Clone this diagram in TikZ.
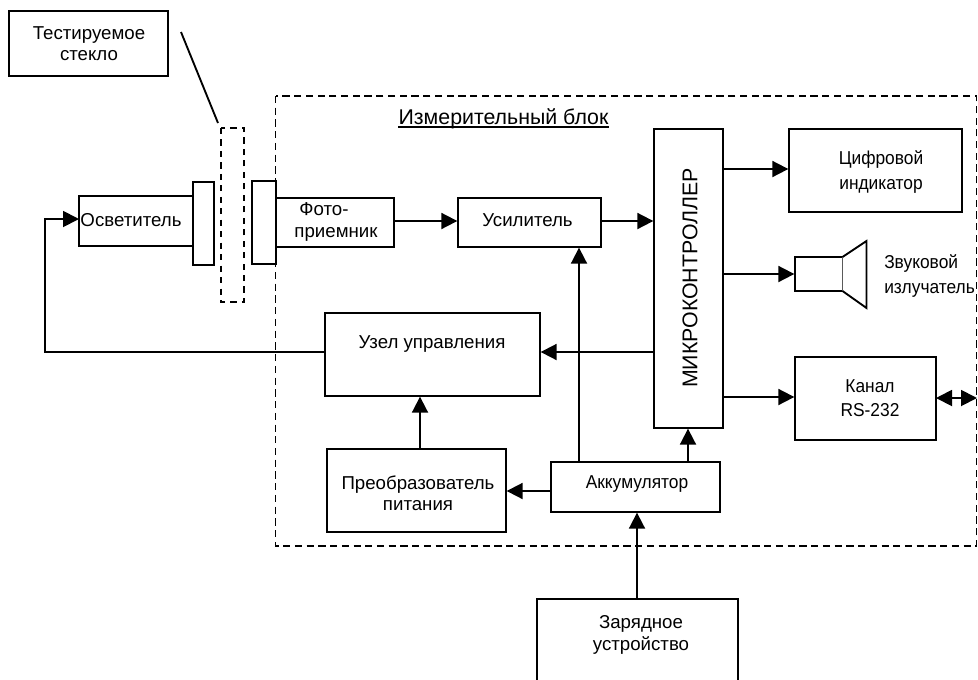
\documentclass[tikz,border=0pt]{standalone}
\usepackage{fontspec}
\setmainfont{Liberation Sans}
\usetikzlibrary{arrows.meta,calc}
\newcommand{\bx}[5]{%
  \pgfmathsetmacro{\bxcx}{(#2+#4)/2}\pgfmathsetmacro{\bxcy}{(#3+#5)/2}%
  \pgfmathsetmacro{\bxw}{(#4-#2)*0.75}\pgfmathsetmacro{\bxh}{(#5-#3)*0.75}%
  \node[boxn,minimum width=\bxw pt,minimum height=\bxh pt] (#1) at (\bxcx,\bxcy) {};}
\tikzset{
  boxn/.style={draw=black,fill=white,line width=1.4pt,inner sep=0pt,outer sep=0pt},
  lbl/.style={font=\fontsize{14}{15.9}\selectfont,align=center,inner sep=0pt},
  lblr/.style={font=\fontsize{14}{18.2}\selectfont,align=center,inner sep=0pt,xscale=0.93},
  lne/.style={draw=black,line width=1.4pt},
  arr/.style={lne,-{Triangle[length=12pt,width=12pt]},shorten >=0.5pt},
  darr/.style={lne,{Triangle[length=12pt,width=12pt]}-{Triangle[length=12pt,width=12pt]}},
  dsh/.style={draw=black,line width=1.4pt,dash pattern=on 5.4pt off 3.4pt}
}
\begin{document}
\begin{tikzpicture}[x=0.75pt,y=-0.75pt]
\useasboundingbox (0,0) rectangle (978,679);
\clip (0,0) rectangle (978,679);
% outer dashed block
\draw[dsh] (275.5,96) rectangle (976.5,546);
\node[inner sep=0pt,font=\fontsize{16}{18}\selectfont,anchor=base] (title) at (503.5,124.5) {Измерительный блок};
\draw[lne,line width=1.5pt] (title.base west) ++(0,2.5) -- ($(title.base east)+(0,2.5)$);
\bx{glassref}{9}{11}{168}{76}
\node[lbl] (glassreft) at (89,43.5) {Тестируемое\\стекло};
\draw[dsh,dash pattern=on 4.6pt off 4pt] (221,128) rectangle (244,302);
\coordinate (leadA) at (181,32);
\coordinate (leadB) at (218,123);
\draw[lne] (leadA) -- (leadB);
% light source
\bx{ill}{79}{196}{193}{246}
\bx{illf}{193}{182}{214}{265}
\node[lbl] (illt) at (131,220) {Осветитель};
% photo receiver
\bx{phof}{252}{181}{276}{264}
\bx{pho}{276}{198}{394}{247}
\node[lbl] (phot) at (336,222) {Фото-\hspace*{18pt}\\приемник};
% amplifier
\bx{amp}{458}{198}{601}{247}
\node[lbl] (ampt) at (527.5,220) {Усилитель};
% mcu
\bx{mcu}{654}{129}{723}{428}
\node[lbl,rotate=90,font=\fontsize{16}{18}\selectfont] (mcut) at (690,278) {МИКРОКОНТРОЛЛЕР};
% display
\bx{dig}{789}{129}{962}{212}
\node[lblr] (digt) at (881,172) {Цифровой\\индикатор};
% speaker
\bx{spk}{795}{257}{842.5}{291}
\draw[lne,fill=white,line join=miter] (spk.north east) -- (866.5,241) -- (866.5,308) -- (spk.south east);
\node[lblr,anchor=west,align=left] (spkt) at (884,276) {Звуковой\\излучатель};
% rs232
\bx{rs}{795}{357}{936}{440}
\node[lblr] (rst) at (870,398) {Канал\\RS-232};
\coordinate (rsend) at (977,398);
% control
\bx{ctl}{325}{313}{540}{396}
\node[lbl] (ctlt) at (432,344) {Узел управления};
% converter
\bx{conv}{327}{449}{506}{532}
\node[lbl] (convt) at (418,493.5) {Преобразователь\\питания};
% battery
\bx{bat}{551}{462}{720}{512}
\node[lblr] (batt) at (637,484) {Аккумулятор};
% charger
\bx{chg}{537}{599}{738}{720}
\node[lbl] (chgt) at (641,635) {Зарядное\\устройство};
% connectors
\draw[arr] (pho.east |- 0,221) -- (amp.west |- 0,221);
\draw[arr] (amp.east |- 0,221) -- (mcu.west |- 0,221);
\draw[arr] (mcu.east |- 0,169) -- (dig.west |- 0,169);
\draw[arr] (mcu.east |- spk.west) -- (spk.west);
\draw[arr] (mcu.east |- 0,397) -- (rs.west |- 0,397);
\draw[darr] (rs.east |- 0,398) -- (rsend);
\draw[arr] (mcu.west |- 0,352) -- (ctl.east |- 0,352);
\draw[arr] (bat.north -| 579,0) -- (amp.south -| 579,0);
\draw[arr] (bat.north -| 688,0) -- (mcu.south -| 688,0);
\draw[arr] (bat.west |- 0,491) -- (conv.east |- 0,491);
\draw[arr] (conv.north -| 420,0) -- (ctl.south -| 420,0);
\draw[arr] (chg.north -| 637,0) -- (bat.south -| 637,0);
\draw[lne,-{Triangle[length=12pt,width=12pt]}] (ctl.west |- 0,352) -- (45,352) -- (45,219) -- (ill.west |- 0,219);
\end{tikzpicture}
\end{document}
